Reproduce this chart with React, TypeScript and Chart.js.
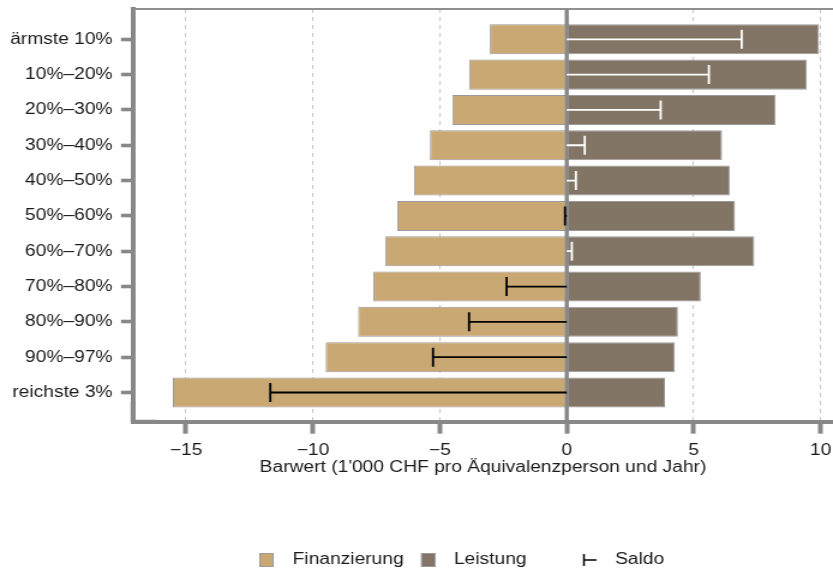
import React, { useEffect, useRef } from "react";
import { Chart, registerables } from "chart.js";

Chart.register(...registerables);

const categories = [
  "ärmste 10%",
  "10%–20%",
  "20%–30%",
  "30%–40%",
  "40%–50%",
  "50%–60%",
  "60%–70%",
  "70%–80%",
  "80%–90%",
  "90%–97%",
  "reichste 3%",
];

const finanzierung = [-3.03, -3.85, -4.51, -5.39, -6.02, -6.68, -7.16, -7.62, -8.22, -9.5, -15.52];
const leistung = [9.94, 9.46, 8.23, 6.12, 6.42, 6.63, 7.39, 5.28, 4.38, 4.26, 3.87];
const saldo = [6.89, 5.6, 3.7, 0.71, 0.36, -0.07, 0.2, -2.37, -3.85, -5.27, -11.68];

const xTicks = [-15, -10, -5, 0, 5, 10];

const FIN_COLOR = "#C9A874";
const LEI_COLOR = "#837565";
const BAR_BORDER = "#9a9a9a";
const AXIS_COLOR = "#888888";
const GRID_COLOR = "#c6c6c6";
const TEXT_COLOR = "#1a1a1a";
const FONT_FAMILY = '"Liberation Sans", Arial, Helvetica, sans-serif';

const overlayPlugin = {
  id: "overlay",
  afterDatasetsDraw(chart: any) {
    const { ctx, chartArea, scales } = chart;
    const x = scales.x;
    const y = scales.y;
    const x0 = x.getPixelForValue(0);
    ctx.save();
    // top frame line
    ctx.strokeStyle = "#8f8f8f";
    ctx.lineWidth = 2;
    ctx.beginPath();
    ctx.moveTo(chartArea.left, chartArea.top);
    ctx.lineTo(chartArea.right, chartArea.top);
    ctx.stroke();
    // rounded axis corner
    ctx.strokeStyle = AXIS_COLOR;
    ctx.lineWidth = 4;
    ctx.lineJoin = "round";
    ctx.beginPath();
    ctx.moveTo(chartArea.left, chartArea.bottom - 20);
    ctx.lineTo(chartArea.left, chartArea.bottom);
    ctx.lineTo(chartArea.left + 20, chartArea.bottom);
    ctx.stroke();
    // zero line
    ctx.lineWidth = 3.4;
    ctx.beginPath();
    ctx.moveTo(x0, chartArea.top);
    ctx.lineTo(x0, chartArea.bottom);
    ctx.stroke();
    // saldo markers
    saldo.forEach((v, i) => {
      const py = y.getPixelForValue(i);
      const px = x.getPixelForValue(v);
      ctx.strokeStyle = v >= 0 ? "#ffffff" : "#000000";
      ctx.lineWidth = 1.8;
      ctx.beginPath();
      ctx.moveTo(x0, py);
      ctx.lineTo(px, py);
      ctx.moveTo(px, py - 9.5);
      ctx.lineTo(px, py + 9.5);
      ctx.stroke();
    });
    ctx.restore();
  },
  afterDraw(chart: any) {
    const { ctx } = chart;
    const cy = 560;
    ctx.save();
    ctx.font = `16px ${FONT_FAMILY}`;
    ctx.textBaseline = "middle";
    ctx.textAlign = "left";
    ctx.fillStyle = TEXT_COLOR;
    const boxes = [
      { label: "Finanzierung", color: FIN_COLOR, bx: 216, tx: 243.8 },
      { label: "Leistung", color: LEI_COLOR, bx: 350.8, tx: 378.2 },
    ];
    boxes.forEach((b) => {
      ctx.fillStyle = b.color;
      ctx.fillRect(b.bx, cy - 7, 12, 14);
      ctx.strokeStyle = BAR_BORDER;
      ctx.lineWidth = 1;
      ctx.strokeRect(b.bx + 0.5, cy - 6.5, 11, 13);
      ctx.fillStyle = TEXT_COLOR;
      ctx.fillText(b.label, b.tx, cy);
    });
    // saldo symbol
    ctx.strokeStyle = "#000000";
    ctx.lineWidth = 1.5;
    ctx.beginPath();
    ctx.moveTo(486.5, cy - 6);
    ctx.lineTo(486.5, cy + 6);
    ctx.moveTo(486.5, cy);
    ctx.lineTo(497, cy);
    ctx.stroke();
    ctx.fillStyle = TEXT_COLOR;
    ctx.fillText("Saldo", 512.4, cy);
    ctx.restore();
  },
};

export default function App() {
  const canvasRef = useRef<HTMLCanvasElement | null>(null);

  useEffect(() => {
    const canvas = canvasRef.current;
    if (!canvas) return;
    const chart = new Chart(canvas, {
      type: "bar",
      data: {
        datasets: [
          {
            label: "Finanzierung",
            data: finanzierung.map((v, i) => ({ x: v, y: i })),
            backgroundColor: FIN_COLOR,
            borderColor: BAR_BORDER,
            borderWidth: 1,
            borderSkipped: false,
            categoryPercentage: 0.85,
            barPercentage: 1,
          },
          {
            label: "Leistung",
            data: leistung.map((v, i) => ({ x: v, y: i })),
            backgroundColor: LEI_COLOR,
            borderColor: BAR_BORDER,
            borderWidth: 1,
            borderSkipped: false,
            categoryPercentage: 0.85,
            barPercentage: 1,
          },
        ],
      },
      options: {
        indexAxis: "y",
        responsive: false,
        animation: false,
        devicePixelRatio: 1,
        layout: { padding: { top: 9, left: 0, right: 0, bottom: 0 } },
        plugins: {
          legend: { display: false },
          tooltip: { enabled: false },
        },
        scales: {
          x: {
            type: "linear",
            stacked: true,
            offset: false,
            min: -17.09,
            max: 10.49,
            afterBuildTicks: (scale: any) => {
              scale.ticks = xTicks.map((v) => ({ value: v }));
            },
            afterFit: (scale: any) => {
              scale.height = 151.3;
              scale.paddingLeft = 0;
              scale.paddingRight = 0;
              scale.paddingTop = 0;
              scale.paddingBottom = 0;
            },
            grid: {
              offset: false,
              drawOnChartArea: true,
              drawTicks: true,
              color: (c: any) => (c.tick && c.tick.value === 0 ? "rgba(0,0,0,0)" : GRID_COLOR),
              lineWidth: 1,
              tickLength: 12,
              tickWidth: 4,
              tickColor: AXIS_COLOR,
            },
            border: {
              display: true,
              color: AXIS_COLOR,
              width: 4,
              dash: [4, 4],
            },
            ticks: {
              maxRotation: 0,
              autoSkip: false,
              padding: 7,
              color: TEXT_COLOR,
              font: { family: FONT_FAMILY, size: 16 },
              callback: (v: any) => (v < 0 ? "\u2212" + Math.abs(v) : String(v)),
            },
            title: {
              display: true,
              text: "Barwert (1'000 CHF pro Äquivalenzperson und Jahr)",
              color: TEXT_COLOR,
              font: { family: FONT_FAMILY, size: 16 },
              padding: { top: 4, bottom: 96 },
            },
          },
          y: {
            type: "linear",
            stacked: true,
            reverse: true,
            offset: false,
            min: -0.858,
            max: 10.827,
            afterBuildTicks: (scale: any) => {
              scale.ticks = categories.map((_, i) => ({ value: i }));
            },
            afterFit: (scale: any) => {
              scale.width = 110.8;
              scale.paddingLeft = 0;
              scale.paddingRight = 0;
              scale.paddingTop = 0;
              scale.paddingBottom = 0;
            },
            grid: {
              offset: false,
              drawOnChartArea: false,
              drawTicks: true,
              tickLength: 10,
              tickWidth: 3.6,
              tickColor: AXIS_COLOR,
            },
            border: {
              display: true,
              color: AXIS_COLOR,
              width: 4,
            },
            ticks: {
              autoSkip: false,
              padding: 7,
              color: TEXT_COLOR,
              font: { family: FONT_FAMILY, size: 16 },
              callback: (v: any) => categories[v] ?? "",
            },
          },
        },
      },
      plugins: [overlayPlugin],
    } as any);
    return () => {
      chart.destroy();
    };
  }, []);

  return (
    <div style={{ position: "absolute", left: 0, top: 0, width: 833, height: 573, background: "#ffffff" }}>
      <canvas
        ref={canvasRef}
        width={694}
        height={573}
        style={{ width: "833px", height: "573px", display: "block" }}
      />
    </div>
  );
}
